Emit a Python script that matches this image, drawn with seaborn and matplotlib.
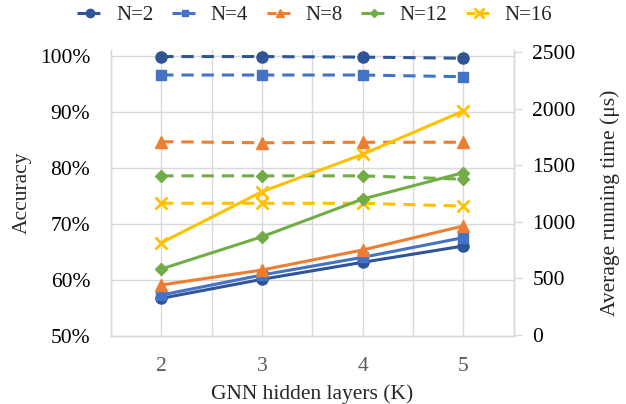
import matplotlib
matplotlib.use("Agg")
import matplotlib.pyplot as plt
import seaborn as sns
import pandas as pd
from matplotlib.lines import Line2D
from matplotlib.ticker import FuncFormatter

K = [2, 3, 4, 5]
labels = ["N=2", "N=4", "N=8", "N=12", "N=16"]
acc_N2 = [99.9, 99.9, 99.8, 99.6]
acc_N4 = [96.6, 96.6, 96.6, 96.3]
acc_N8 = [84.7, 84.5, 84.6, 84.6]
acc_N12 = [78.6, 78.6, 78.6, 78.0]
acc_N16 = [73.7, 73.7, 73.7, 73.2]
time_N2 = [324, 492, 642, 786]
time_N4 = [353, 530, 686, 860]
time_N8 = [442, 574, 751, 963]
time_N12 = [583, 868, 1201, 1434]
time_N16 = [815, 1266, 1596, 1979]

accs = [acc_N2, acc_N4, acc_N8, acc_N12, acc_N16]
times = [time_N2, time_N4, time_N8, time_N12, time_N16]
colors = ["#2F5597", "#4472C4", "#ED7D31", "#70AD47", "#FFC000"]
markers = ["o", "s", "^", "D", "x"]
msizes = [8, 7, 8, 6, 9]

sns.set_theme(style="white")
plt.rcParams["font.family"] = ["Liberation Serif", "DejaVu Serif"]

W, H = 626, 404
fig = plt.figure(figsize=(W / 100, H / 100), dpi=100)
x0, x1, ybot, ytop = 111.0, 513.5, 336.0, 50.0
ax = fig.add_axes([x0 / W, (H - ybot) / H, (x1 - x0) / W, (ybot - ytop) / H])
ax2 = ax.twinx()

grid_c = "#D9D9D9"
ax.set_xlim(1.5, 5.5)
ax.set_ylim(50, 101.07)
ax2.set_ylim(-9, 2518)

for xv in [2, 2.5, 3, 3.5, 4, 4.5, 5]:
    ax.axvline(xv, color=grid_c, lw=1.0, zorder=0)
for yv in [60, 70, 80, 90, 100]:
    ax.axhline(yv, color=grid_c, lw=1.0, zorder=0)

for i in range(5):
    d_acc = pd.DataFrame({"K": K, "v": accs[i]})
    d_t = pd.DataFrame({"K": K, "v": times[i]})
    mew = 2 if markers[i] == "x" else 1
    sns.lineplot(data=d_acc, x="K", y="v", ax=ax, color=colors[i], marker=markers[i],
                 markersize=msizes[i], markeredgecolor=colors[i], markeredgewidth=mew,
                 linewidth=2.2, linestyle=(0, (4, 2.6)), legend=False, zorder=3)
    sns.lineplot(data=d_t, x="K", y="v", ax=ax2, color=colors[i], marker=markers[i],
                 markersize=msizes[i], markeredgecolor=colors[i], markeredgewidth=mew,
                 linewidth=2.2, legend=False, zorder=3)

ax.set_xticks(K)
ax.set_xticklabels([str(k) for k in K], color="#595959", fontsize=15.5)
ax.set_yticks([50, 60, 70, 80, 90, 100])
ax.yaxis.set_major_formatter(FuncFormatter(lambda v, p: f"{int(v)}%"))
ax.tick_params(axis="y", labelsize=15.5, length=0, pad=15, colors="black")
ax.tick_params(axis="x", length=0, pad=15)
ax2.set_yticks([0, 500, 1000, 1500, 2000, 2500])
ax2.tick_params(axis="y", labelsize=15.5, length=5.5, width=1, color=grid_c, pad=8, labelcolor="black")

for a in (ax, ax2):
    a.spines["top"].set_visible(False)
    for s in ["left", "right", "bottom"]:
        a.spines[s].set_color(grid_c)
        a.spines[s].set_linewidth(1.0)

ax.set_xlabel("GNN hidden layers (K)", fontsize=15.5, labelpad=6)
ax.set_ylabel("Accuracy", fontsize=15.5, labelpad=6)
ax2.set_ylabel("Average running time (μs)", fontsize=15.5, labelpad=10)
ax2.yaxis.set_label_coords(1.215, 0.465)

handles = [Line2D([0], [0], color=colors[i], marker=markers[i], markersize=msizes[i] - 2,
                  markeredgewidth=2 if markers[i] == "x" else 1, linewidth=2.2,
                  linestyle=(0, (3, 1.5))) for i in range(5)]
fig.legend(handles, labels, loc="center", bbox_to_anchor=(0.503, 1 - 15.5 / H), ncol=5,
           frameon=False, fontsize=15, handlelength=1.25, handletextpad=0.6, columnspacing=0.9)

fig.savefig("out.png", dpi=100)
